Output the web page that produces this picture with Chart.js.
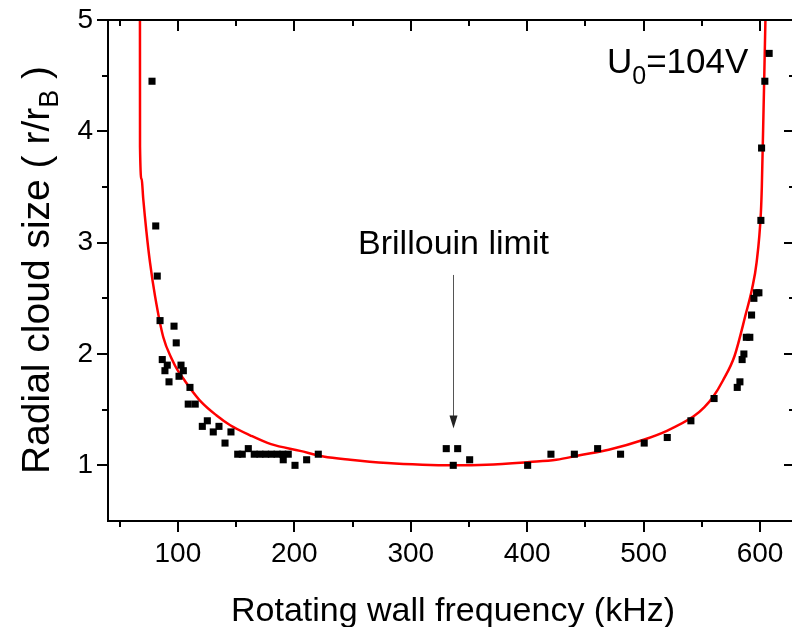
<!DOCTYPE html>
<html>
<head>
<meta charset="utf-8">
<script src="https://cdn.jsdelivr.net/npm/chart.js@4.4.1/dist/chart.umd.min.js"></script>
<style>
  html, body { margin: 0; padding: 0; background: #fff; overflow: hidden; }
  canvas { display: block; }
</style>
</head>
<body>
<canvas id="cloudChart" width="800" height="627"></canvas>
<script>
// measured cloud size vs rotating wall frequency
const measFreq = [77.8, 81, 82.3, 84.7, 86.6, 88.9, 90.9, 92.4, 96.7, 98.6, 101, 102.7, 104.7, 108.9, 110.4, 114.9,
  121, 125.3, 130.4, 135.3, 140.5, 145.6, 151.4, 155.3, 160.5, 165.6, 170.5, 175.4, 180.3, 185.2, 190.1, 190.5, 194.8,
  200.6, 210.6, 220.6, 330.5, 336.5, 340.3, 350.6, 400.4, 420.4, 440.5, 460.5, 480.2, 500.5, 520.3, 540.6, 560.5,
  580.4, 582.7, 584.6, 586.1, 588.2, 591.2, 592.7, 594.7, 597, 599, 600.7, 601.3, 604.1, 607.8];
const measSize = [4.45, 3.15, 2.7, 2.3, 1.95, 1.85, 1.9, 1.75, 2.25, 2.1, 1.8, 1.9, 1.85, 1.55, 1.7, 1.55,
  1.35, 1.4, 1.3, 1.35, 1.2, 1.3, 1.1, 1.1, 1.15, 1.1, 1.1, 1.1, 1.1, 1.1, 1.1, 1.05, 1.1,
  1.0, 1.05, 1.1, 1.15, 1.0, 1.15, 1.05, 1.0, 1.1, 1.1, 1.15, 1.1, 1.2, 1.25, 1.4, 1.6,
  1.7, 1.75, 1.95, 2.0, 2.15, 2.15, 2.35, 2.5, 2.55, 2.55, 3.2, 3.85, 4.45, 4.7];

// model curve (red)
const fitFreq = [67.4, 67.5, 68.9, 70.3, 73, 76.1, 80.4, 87.5, 95, 100, 106, 110, 120, 133, 145, 162, 180, 205, 225,
  248, 280, 310, 336, 365, 402, 425, 445, 470, 500, 520, 543, 552, 560, 568, 578, 588, 593, 597, 600.7, 601.5, 603,
  604.6, 605.2];
const fitSize = [6.0, 3.86, 3.57, 3.39, 3.1, 2.82, 2.52, 2.15, 1.95, 1.85, 1.76, 1.70, 1.57, 1.45, 1.36, 1.27, 1.19,
  1.13, 1.08, 1.05, 1.02, 1.005, 1.0, 1.005, 1.03, 1.05, 1.09, 1.14, 1.23, 1.31, 1.44, 1.52, 1.62, 1.76, 1.98, 2.37,
  2.58, 2.82, 3.27, 3.5, 4.2, 5.0, 5.4];

const xMajorTicks = [100, 200, 300, 400, 500, 600];
const xMinorTicks = [50, 150, 250, 350, 450, 550];
const yMajorTicks = [1, 2, 3, 4, 5];
const yMinorTicks = [1.5, 2.5, 3.5, 4.5];

const FONT = '"Liberation Sans", Arial, sans-serif';

// frame, ticks on all four sides, titles and the labels
const framePlugin = {
  id: 'frame',
  afterDraw(chart) {
    const ctx = chart.ctx;
    const a = chart.chartArea;
    const xs = chart.scales.x;
    const ys = chart.scales.y;
    ctx.save();
    ctx.strokeStyle = '#000';
    ctx.lineWidth = 2;
    ctx.strokeRect(a.left, a.top, a.right - a.left, a.bottom - a.top);

    ctx.beginPath();
    const xTick = (v, len) => {
      if (v < xs.min || v > xs.max) return;
      const px = Math.round(xs.getPixelForValue(v));
      ctx.moveTo(px, a.bottom); ctx.lineTo(px, a.bottom + len);
      ctx.moveTo(px, a.top); ctx.lineTo(px, a.top + len);
    };
    const yTick = (v, len) => {
      const py = Math.round(ys.getPixelForValue(v));
      ctx.moveTo(a.left, py); ctx.lineTo(a.left - len, py);
      ctx.moveTo(a.right, py); ctx.lineTo(a.right - len, py);
    };
    xMajorTicks.forEach(v => xTick(v, 11));
    xMinorTicks.forEach(v => xTick(v, 6));
    yMajorTicks.forEach(v => yTick(v, 11));
    yMinorTicks.forEach(v => yTick(v, 6));
    ctx.stroke();

    ctx.fillStyle = '#000';
    // x title
    ctx.font = '34px ' + FONT;
    ctx.textAlign = 'center';
    ctx.textBaseline = 'alphabetic';
    ctx.fillText('Rotating wall frequency (kHz)', 453, 621);

    // y title with subscript
    ctx.save();
    ctx.translate(49, 270);
    ctx.rotate(-Math.PI / 2);
    ctx.textAlign = 'left';
    const big = '39px ' + FONT, small = '27px ' + FONT;
    ctx.font = big;
    const t1 = 'Radial cloud size ( r/r', t3 = ' )';
    const w1 = ctx.measureText(t1).width, w3 = ctx.measureText(t3).width;
    ctx.font = small;
    const w2 = ctx.measureText('B').width;
    let x0 = -(w1 + w2 + w3) / 2;
    ctx.font = big;
    ctx.fillText(t1, x0, 0);
    ctx.font = small;
    ctx.fillText('B', x0 + w1, 9);
    ctx.font = big;
    ctx.fillText(t3, x0 + w1 + w2, 0);
    ctx.restore();

    // U0 label
    ctx.textAlign = 'left';
    let ux = xs.getPixelForValue(468.5), uy = ys.getPixelForValue(4.52);
    ctx.font = '35px ' + FONT;
    ctx.fillText('U', ux, uy);
    ux += ctx.measureText('U').width;
    ctx.font = '25px ' + FONT;
    ctx.fillText('0', ux, uy + 11);
    ux += ctx.measureText('0').width;
    ctx.font = '35px ' + FONT;
    ctx.fillText('=104V', ux, uy);

    // Brillouin limit label and arrow
    const bx = xs.getPixelForValue(336.7);
    ctx.font = '34px ' + FONT;
    ctx.textAlign = 'center';
    ctx.fillText('Brillouin limit', bx, ys.getPixelForValue(2.9));
    const ay0 = ys.getPixelForValue(2.71), ay1 = ys.getPixelForValue(1.33);
    ctx.strokeStyle = '#555';
    ctx.lineWidth = 1;
    ctx.beginPath();
    ctx.moveTo(Math.round(bx) + 0.5, ay0);
    ctx.lineTo(Math.round(bx) + 0.5, ay1 - 10);
    ctx.stroke();
    ctx.fillStyle = '#222';
    ctx.beginPath();
    ctx.moveTo(Math.round(bx) + 0.5, ay1);
    ctx.lineTo(Math.round(bx) - 3.5, ay1 - 13);
    ctx.lineTo(Math.round(bx) + 4.5, ay1 - 13);
    ctx.closePath();
    ctx.fill();
    ctx.restore();
  }
};

const ctx1 = document.getElementById('cloudChart').getContext('2d');

new Chart(ctx1, {
  type: 'scatter',
  data: {
    datasets: [
      {
        label: 'measured',
        data: measFreq.map((f, i) => ({ x: f, y: measSize[i] })),
        pointStyle: 'rect',
        pointRadius: 5,
        pointBackgroundColor: '#000',
        pointBorderWidth: 0,
        showLine: false
      },
      {
        label: 'model',
        data: fitFreq.map((f, i) => ({ x: f, y: fitSize[i] })),
        showLine: true,
        borderColor: '#ff0000',
        borderWidth: 2.5,
        pointRadius: 0,
        cubicInterpolationMode: 'monotone'
      }
    ]
  },
  options: {
    responsive: false,
    devicePixelRatio: 1,
    animation: false,
    events: [],
    layout: { padding: { top: 20, right: 5, left: 0, bottom: 0 } },
    plugins: {
      legend: { display: false },
      tooltip: { enabled: false }
    },
    scales: {
      x: {
        type: 'linear',
        min: 40,
        max: 630,
        afterFit: s => { s.height = 106; s.paddingLeft = 0; s.paddingRight = 0; },
        afterBuildTicks: s => { s.ticks = xMajorTicks.map(v => ({ value: v })); },
        grid: { display: false, drawTicks: false },
        border: { display: false },
        ticks: {
          autoSkip: false,
          maxRotation: 0,
          padding: 16,
          color: '#000',
          font: { family: FONT, size: 28 }
        }
      },
      y: {
        min: 0.5,
        max: 5,
        afterFit: s => { s.width = 108; s.paddingTop = 0; s.paddingBottom = 0; },
        afterBuildTicks: s => { s.ticks = yMajorTicks.map(v => ({ value: v })); },
        grid: { display: false, drawTicks: false },
        border: { display: false },
        ticks: {
          autoSkip: false,
          padding: 15,
          color: '#000',
          font: { family: FONT, size: 28 }
        }
      }
    }
  },
  plugins: [framePlugin]
});
</script>
</body>
</html>
